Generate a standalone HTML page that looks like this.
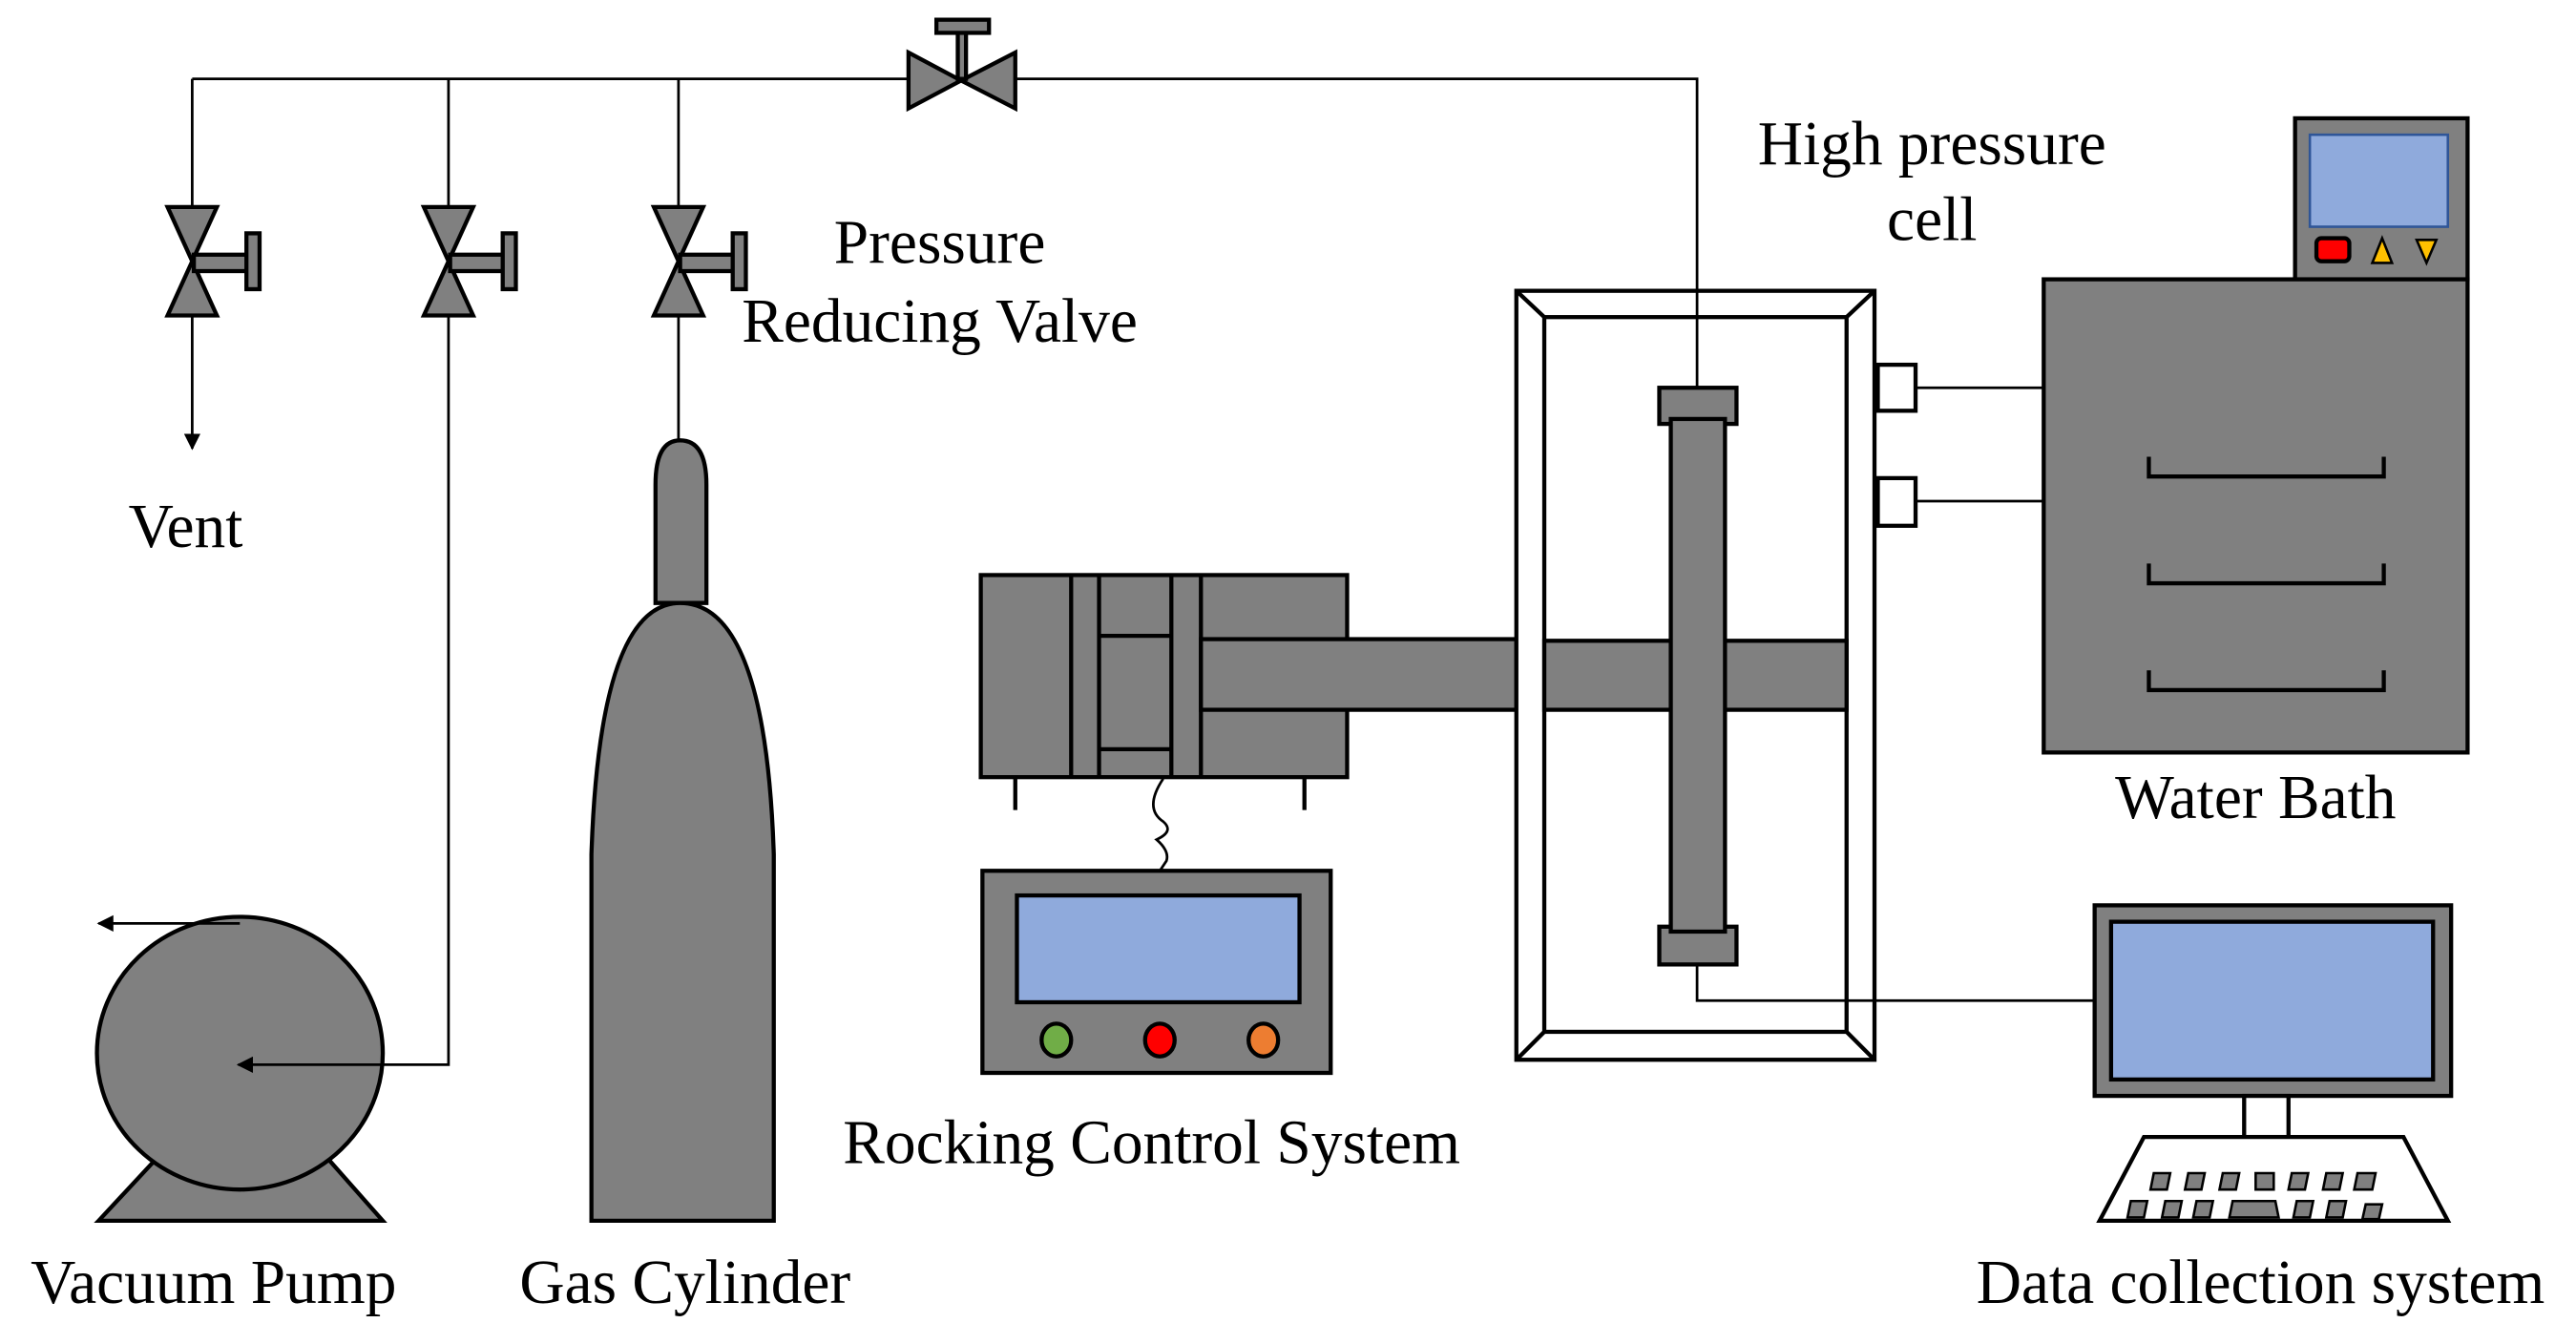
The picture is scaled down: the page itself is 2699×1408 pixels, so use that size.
<!DOCTYPE html>
<html><head><meta charset="utf-8"><style>html,body{margin:0;padding:0;background:#fff}svg{display:block}</style></head>
<body>
<svg width="2699" height="1408" viewBox="0 0 1568 818" preserveAspectRatio="none" xmlns="http://www.w3.org/2000/svg">
<defs><marker id="ah" markerWidth="10" markerHeight="10" refX="9" refY="5" orient="auto" markerUnits="userSpaceOnUse"><path d="M0,0 L10,5 L0,10 z" fill="#000"/></marker></defs>
<g fill="#808080" stroke="#000" stroke-width="2.5">
<!-- pump -->
<path d="M60,743 L100,700 L195,700 L233,743 Z"/>
<ellipse cx="146" cy="641" rx="87" ry="83"/>
<!-- cylinder -->
<path d="M399,367 V295 Q399,268 414,268 Q430,268 430,295 V367 Z"/>
<path d="M360,743 V520 Q365,367 414,367 Q466,367 471,520 V743 Z"/>
<!-- rocking -->
<rect x="597" y="350" width="223" height="123"/>
<path d="M652,350 V473 M669,350 V473 M713,350 V473 M731,350 V473 M669,387 H713 M669,456 H713" fill="none"/>
<rect x="731" y="389" width="192" height="43"/>
<path d="M618,473 V493 M794,473 V493" fill="none"/>
<path d="M708,474 Q696,492 708,500 Q715,506 704,511 Q712,518 710,524 L706,530" fill="none" stroke-width="1.6"/>
<rect x="598" y="530" width="212" height="123"/>
<rect x="619" y="545" width="172" height="65" fill="#8faadc"/>
<ellipse cx="643" cy="633" rx="9" ry="10" fill="#70ad47"/>
<ellipse cx="706" cy="633" rx="9" ry="10" fill="#ff0000"/>
<ellipse cx="769" cy="633" rx="9" ry="10" fill="#ed7d31"/>
<!-- cell frame -->
<rect x="923" y="177" width="218" height="468" fill="#fff"/>
<rect x="940" y="193" width="184" height="435" fill="#fff"/>
<path d="M923,177 L940,193 M1141,177 L1124,193 M923,645 L940,628 M1141,645 L1124,628" fill="none"/>
<rect x="940" y="390" width="184" height="42"/>
<rect x="1010" y="236" width="47" height="22"/>
<rect x="1010" y="564" width="47" height="23"/>
<rect x="1017" y="255" width="33" height="312"/>
<rect x="1143" y="222" width="23" height="28" fill="#fff"/>
<rect x="1143" y="291" width="23" height="29" fill="#fff"/>
<!-- water bath -->
<rect x="1397" y="72" width="105" height="98"/>
<rect x="1406" y="82" width="84" height="56" fill="#8faadc" stroke="#2f5597" stroke-width="1.5"/>
<rect x="1410" y="145" width="20" height="14" rx="3" fill="#ff0000"/>
<path d="M1444,160 L1450,145 L1456,160 Z M1471,146 L1483,146 L1477,160 Z" fill="#ffc000" stroke-width="1.5"/>
<rect x="1244" y="170" width="258" height="288"/>
<path d="M1308,278 V290 H1451 V278 M1308,343 V355 H1451 V343 M1308,408 V420 H1451 V408" fill="none"/>
<!-- computer -->
<rect x="1275" y="551" width="217" height="116"/>
<rect x="1285" y="561" width="196" height="96" fill="#8faadc"/>
<rect x="1366" y="667" width="27" height="25" fill="#fff"/>
<path d="M1305,692 H1463 L1490,743 H1278 Z" fill="#fff"/>
<g stroke-width="1.5">
<path d="M1311,714 h10 l-2,10 h-10 Z M1332,714 h10 l-2,10 h-10 Z M1353,714 h10 l-2,10 h-10 Z M1373,714 h11 v10 h-11 Z M1395,714 h10 l-2,10 h-10 Z M1416,714 h10 l-2,10 h-10 Z M1435,714 h11 l-2,10 h-11 Z"/>
<path d="M1297,731 h10 l-2,10 h-10 Z M1318,731 h10 l-2,10 h-10 Z M1337,731 h10 l-2,10 h-10 Z M1359,731 h26 l2,10 h-30 Z M1398,731 h10 l-2,10 h-10 Z M1418,731 h10 l-2,10 h-10 Z M1440,733 h10 l-2,9 h-10 Z"/>
</g>
</g>
<g fill="none" stroke="#000" stroke-width="1.6">
<path d="M117,48 H1033 V236"/>
<path d="M117,48 V273" marker-end="url(#ah)"/>
<path d="M273,48 V648 H145" marker-end="url(#ah)"/>
<path d="M413,48 V268"/>
<path d="M146,562 H60" marker-end="url(#ah)"/>
<path d="M1033,587 V609 H1275"/>
<path d="M1166,236 H1244 M1166,305 H1244"/>
</g>
<g fill="#808080" stroke="#000" stroke-width="2.5">
<path d="M553,32 L585,49 L553,66 Z M618,32 L585,49 L618,66 Z"/>
<rect x="583" y="18" width="5" height="30"/>
<rect x="570" y="12" width="32" height="8"/>
<g id="v"><path d="M102,126 L132,126 L117,159 Z M102,192 L132,192 L117,159 Z"/><rect x="118" y="155" width="33" height="10"/><rect x="150" y="142" width="8" height="34"/></g>
<use href="#v" x="156"/><use href="#v" x="296"/>
</g>
<g font-family="'Liberation Serif', serif" font-size="38" fill="#000" text-anchor="middle">
<text x="1176" y="100">High pressure</text>
<text x="1176" y="146">cell</text>
<text x="572" y="160">Pressure</text>
<text x="572" y="208">Reducing Valve</text>
<text x="113" y="333">Vent</text>
<text x="1373" y="498">Water Bath</text>
<text x="701" y="708">Rocking Control System</text>
<text x="130" y="793">Vacuum Pump</text>
<text x="417" y="793">Gas Cylinder</text>
<text x="1376" y="793">Data collection system</text>
</g>
</svg>
</body></html>
